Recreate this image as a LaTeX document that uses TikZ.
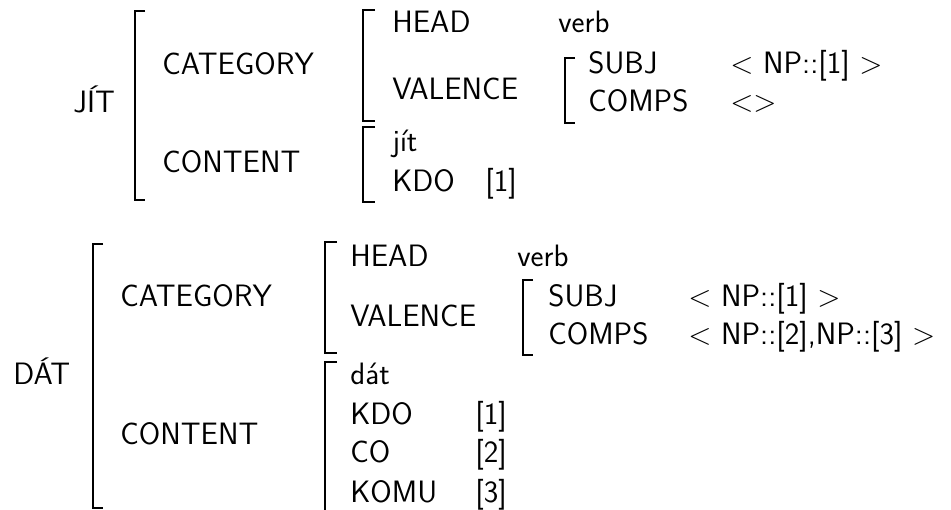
\documentclass[tikz,border=0pt]{standalone}
\usepackage{tikz}
\usetikzlibrary{positioning}
\tikzstyle{attr}    = [anchor=base west, inner sep=0pt, font=\fontsize{17.6}{21}\selectfont\sffamily]
\tikzstyle{bracket} = [line width=0.9pt]

\begin{document}
\begin{tikzpicture}
		\useasboundingbox (0,0) rectangle (19.02,10.2);

		% JIT
		\node[attr] (jit) at (1.46,7.94) {JÍT};
		\draw[bracket] (2.90,9.98) -- (2.70,9.98) -- (2.70,6.20) -- (2.90,6.20);

		\node[attr] (jitcat) at (3.24,8.70) {CATEGORY};
		\node[attr] (jitcont) at (3.24,6.74) {CONTENT};

		\draw[bracket] (7.50,10.00) -- (7.26,10.00) -- (7.26,7.78) -- (7.50,7.78);
		\node[attr] (jithead) at (7.84,9.54) {HEAD};
		\node[attr] (jitverb) at (11.16,9.54) {verb};
		\node[attr] (jitval) at (7.84,8.20) {VALENCE};

		\draw[bracket] (11.50,9.04) -- (11.30,9.04) -- (11.30,7.74) -- (11.50,7.74);
		\node[attr] (jitsubj) at (11.76,8.72) {SUBJ};
		\node[attr] (jitcomps) at (11.76,7.96) {COMPS};
		\node[attr] (jitsubjv) at (14.60,8.72) {$<$ NP::[1] $>$};
		\node[attr] (jitcompsv) at (14.60,7.96) {$<>$};

		\draw[bracket] (7.50,7.66) -- (7.26,7.66) -- (7.26,6.16) -- (7.50,6.16);
		\node[attr] (jitsem) at (7.84,7.16) {jít};
		\node[attr] (jitkdo) at (7.84,6.36) {KDO};
		\node[attr] (jitkdov) at (9.70,6.36) {[1]};

		% DAT
		\node[attr] (dat) at (0.26,2.50) {DÁT};
		\draw[bracket] (2.06,5.32) -- (1.86,5.32) -- (1.86,0.04) -- (2.06,0.04);

		\node[attr] (datcat) at (2.40,4.06) {CATEGORY};
		\node[attr] (datcont) at (2.40,1.30) {CONTENT};

		\draw[bracket] (6.74,5.36) -- (6.50,5.36) -- (6.50,3.14) -- (6.74,3.14);
		\node[attr] (dathead) at (7.00,4.86) {HEAD};
		\node[attr] (datverb) at (10.34,4.86) {verb};
		\node[attr] (datval) at (7.00,3.66) {VALENCE};

		\draw[bracket] (10.66,4.60) -- (10.46,4.60) -- (10.46,3.10) -- (10.66,3.10);
		\node[attr] (datsubj) at (10.96,4.06) {SUBJ};
		\node[attr] (datcomps) at (10.96,3.30) {COMPS};
		\node[attr] (datsubjv) at (13.76,4.06) {$<$ NP::[1] $>$};
		\node[attr] (datcompsv) at (13.76,3.30) {$<$ NP::[2],NP::[3] $>$};

		\draw[bracket] (6.74,2.96) -- (6.50,2.96) -- (6.50,-0.30) -- (6.74,-0.30);
		\node[attr] (datsem) at (7.00,2.50) {dát};
		\node[attr] (datkdo) at (7.00,1.70) {KDO};
		\node[attr] (datco) at (7.00,0.94) {CO};
		\node[attr] (datkomu) at (7.00,0.14) {KOMU};
		\node[attr] (datkdov) at (9.50,1.70) {[1]};
		\node[attr] (datcov) at (9.50,0.94) {[2]};
		\node[attr] (datkomuv) at (9.50,0.14) {[3]};
	\end{tikzpicture}
\end{document}
